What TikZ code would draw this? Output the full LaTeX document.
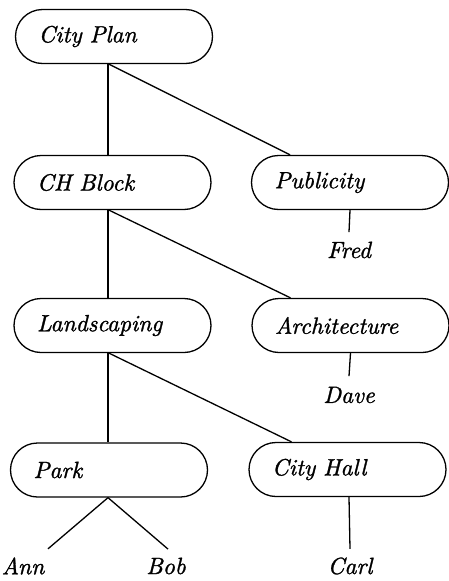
\documentclass[tikz,border=0pt]{standalone}
\usepackage{fontspec}
\newfontfamily\reffont[FakeBold=1.2]{lmroman10-italic.otf}
\usetikzlibrary{calc}
\begin{document}
\begin{tikzpicture}[x=1pt,y=-1pt,line width=1.3pt,
  boxnode/.style={draw,rounded corners=27pt,minimum height=54pt,text width=151pt,inner xsep=23pt,align=left,font=\fontsize{23.5}{28}\reffont},
  leafnode/.style={inner sep=0pt,font=\fontsize{23.5}{28}\reffont}]
\useasboundingbox (0,0) rectangle (449,581);
\node[boxnode] (cp)  at (114,36.5) {City Plan};
\node[boxnode] (chb) at (112.5,182.5) {CH Block};
\node[boxnode] (pub) at (350,182.5) {Publicity};
\node[boxnode] (lan) at (112.5,325.5) {Landscaping};
\node[boxnode] (arc) at (350.5,325.5) {Architecture};
\node[boxnode] (park) at (109,470) {Park};
\node[boxnode] (ch) at (347.5,469.5) {City Hall};
\node[leafnode] (fred) at (349,250) {Fred};
\node[leafnode] (dave) at (349,395) {Dave};
\node[leafnode] (ann) at (23,566) {Ann};
\node[leafnode] (bob) at (166,566) {Bob};
\node[leafnode] (carl) at (350,566) {Carl};
\draw ($(cp.south)+(-6,0)$) -- ($(chb.north)+(-4.5,0)$);
\draw ($(cp.south)+(-5,0)$) -- ($(pub.north)+(-60,0)$);
\draw ($(chb.south)+(-4.5,0)$) -- ($(lan.north)+(-4.5,0)$);
\draw ($(chb.south)+(-3.5,0)$) -- ($(arc.north)+(-60,0)$);
\draw ($(lan.south)+(-4.5,0)$) -- ($(park.north)+(-1,0)$);
\draw ($(lan.south)+(-3.5,0)$) -- ($(ch.north)+(-56,0)$);
\draw (pub.south) -- ($(fred.north)+(0,-9)$);
\draw (arc.south) -- ($(dave.north)+(0,-10)$);
\draw ($(park.south)+(-1,0)$) -- ($(ann.north)+(25,-8)$);
\draw ($(park.south)+(-1,0)$) -- ($(bob.north)+(2,-8)$);
\draw ($(ch.south)+(1.5,0)$) -- ($(carl.north)+(0,-8)$);
\end{tikzpicture}
\end{document}
